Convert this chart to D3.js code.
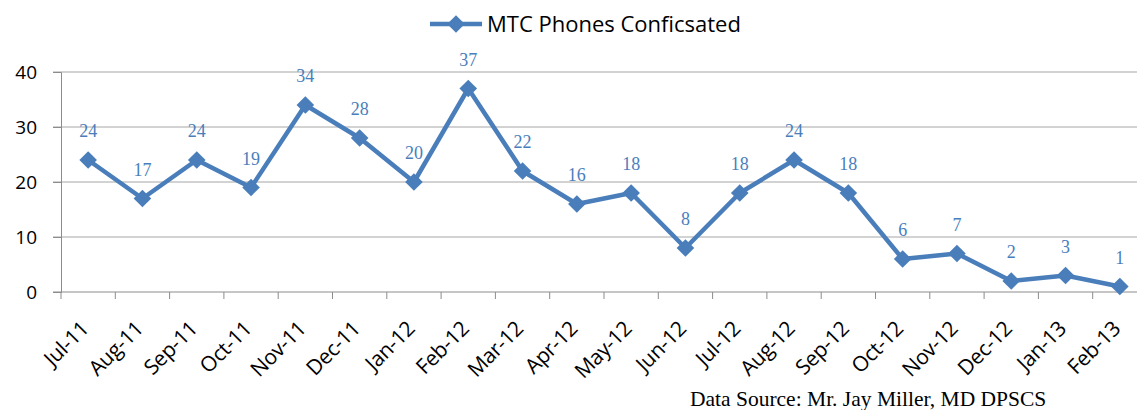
<!DOCTYPE html>
<html>
<head>
<meta charset="utf-8">
<script src="https://cdn.jsdelivr.net/npm/d3@7"></script>
<style>
  body { margin: 0; background: #fff; }
  svg { display: block; }
</style>
</head>
<body>
<div id="chart"></div>
<script>
const months = ["Jul-11","Aug-11","Sep-11","Oct-11","Nov-11","Dec-11","Jan-12","Feb-12","Mar-12","Apr-12",
  "May-12","Jun-12","Jul-12","Aug-12","Sep-12","Oct-12","Nov-12","Dec-12","Jan-13","Feb-13"];
const phones = [24,17,24,19,34,28,20,37,22,16,18,8,18,24,18,6,7,2,3,1];
const yTicks = [0,10,20,30,40];
const seriesName = "MTC Phones Conficsated";
const sourceNote = "Data Source: Mr. Jay Miller, MD DPSCS";

const width = 1137, height = 410;
const margin = {top: 72, right: -10, bottom: 118, left: 61};
const lineColor = "#4a7ebb";

const svg = d3.select("#chart").append("svg")
  .attr("width", width).attr("height", height);

const x = d3.scaleBand().domain(months).range([margin.left, width - margin.right]);
const y = d3.scaleLinear().domain([0, 40]).range([height - margin.bottom, margin.top]);

// gridlines
svg.append("g")
  .selectAll("line").data(yTicks.filter(d => d > 0)).join("line")
  .attr("x1", margin.left - 8).attr("x2", width)
  .attr("y1", d => y(d)).attr("y2", d => y(d))
  .attr("stroke", "#a6a6a6").attr("stroke-width", 1);

// y axis
const yAxis = svg.append("g")
  .attr("transform", "translate(" + margin.left + ",0)")
  .call(d3.axisLeft(y).tickValues(yTicks).tickSize(8).tickPadding(16));
yAxis.select(".domain").attr("stroke", "#8c8c8c");
yAxis.selectAll(".tick line").attr("stroke", "#8c8c8c");
yAxis.selectAll("text")
  .style("font-family", "'Open Sans', sans-serif").style("font-size", "19px").attr("fill", "#000");

// x axis: ticks at category boundaries
const xAxisG = svg.append("g")
  .attr("transform", "translate(0," + y(0) + ")");
xAxisG.append("line")
  .attr("x1", margin.left - 8).attr("x2", width)
  .attr("stroke", "#8c8c8c");
xAxisG.selectAll(".tk").data(months).join("line")
  .attr("class", "tk")
  .attr("x1", d => x(d)).attr("x2", d => x(d))
  .attr("y1", 0).attr("y2", 7)
  .attr("stroke", "#8c8c8c");
xAxisG.selectAll(".lbl").data(months).join("text")
  .attr("class", "lbl")
  .attr("text-anchor", "end")
  .attr("transform", d => "translate(" + (x(d) + x.bandwidth() / 2 + 2) + ",38) rotate(-45)")
  .style("font-family", "'Open Sans', sans-serif").style("font-size", "21px")
  .style("letter-spacing", "-0.3px")
  .attr("fill", "#000")
  .text(d => d);

// line
const cx = d => x(d) + x.bandwidth() / 2;
const line = d3.line().x((d, i) => cx(months[i])).y(d => y(d));
svg.append("path")
  .datum(phones)
  .attr("d", line)
  .attr("fill", "none").attr("stroke", lineColor)
  .attr("stroke-width", 4.5).attr("stroke-linejoin", "round");

const diamond = d3.symbol().type(d3.symbolSquare).size(155);
svg.append("g").selectAll("path").data(phones).join("path")
  .attr("d", diamond)
  .attr("transform", (d, i) => "translate(" + cx(months[i]) + "," + y(d) + ") rotate(45)")
  .attr("fill", lineColor);

// data labels
svg.append("g").selectAll("text").data(phones).join("text")
  .attr("x", (d, i) => cx(months[i]))
  .attr("y", d => y(d) - 23)
  .attr("text-anchor", "middle")
  .style("font-family", "'Liberation Serif', 'Times New Roman', serif").style("font-size", "18px")
  .attr("fill", "#4a7ebb")
  .text(d => d);

// legend
const legend = svg.append("g");
legend.append("line")
  .attr("x1", 430).attr("x2", 482).attr("y1", 24).attr("y2", 24)
  .attr("stroke", lineColor).attr("stroke-width", 4.5);
legend.append("path")
  .attr("d", diamond)
  .attr("transform", "translate(456,24) rotate(45)")
  .attr("fill", lineColor);
legend.append("text")
  .attr("x", 487).attr("y", 32)
  .style("font-family", "'Open Sans', sans-serif").style("font-size", "22px")
  .attr("fill", "#000")
  .text(seriesName);

// source note
svg.append("text")
  .attr("x", 690).attr("y", 406)
  .style("font-family", "'Liberation Serif', 'Times New Roman', serif").style("font-size", "21.5px")
  .attr("fill", "#000")
  .text(sourceNote);
</script>
</body>
</html>
